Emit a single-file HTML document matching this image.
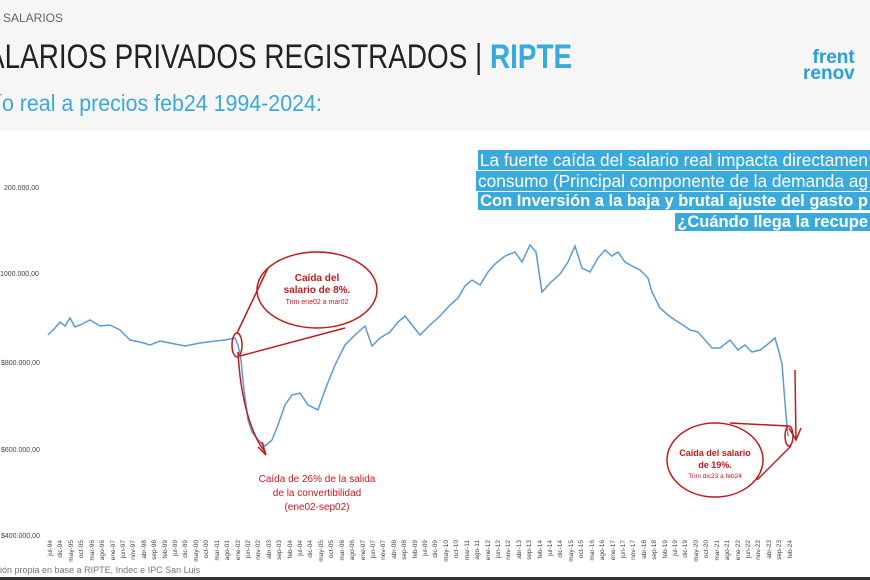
<!DOCTYPE html>
<html><head><meta charset="utf-8"><style>
html,body{margin:0;padding:0;width:870px;height:580px;overflow:hidden;background:#fff;font-family:"Liberation Sans",sans-serif}
.top{position:absolute;left:0;top:0;width:870px;height:131px;background:#f6f6f6}
.t{position:absolute;white-space:nowrap;transform-origin:0 0}
.box{position:absolute;right:0;text-align:right;font-size:17.3px;line-height:20px;color:#fff;white-space:nowrap}
.box span{background:#3aa9dc;padding:0 2px}
</style></head><body>
<div class="top"></div>
<div class="t" style="left:3px;top:11px;font-size:12px;color:#666">SALARIOS</div>
<div class="t" style="left:-14px;top:38px;font-size:34px;color:#222;transform:scaleX(0.82)">ALARIOS PRIVADOS REGISTRADOS | <span style="color:#3aa9dc;font-weight:bold">RIPTE</span></div>
<div class="t" style="left:-4px;top:90px;font-size:23px;color:#3aa9dc;transform:scaleX(0.93)">ío real a precios feb24 1994-2024:</div>
<div class="t" style="left:803px;top:50px;font-size:19px;line-height:16px;color:#2a9fd6;font-weight:bold;text-align:right">frent<br>renov</div>
<div class="box" style="top:150px"><span>La fuerte caída del salario real impacta directamen</span></div>
<div class="box" style="top:171px"><span>consumo (Principal componente de la demanda ag</span></div>
<div class="box" style="top:191px;font-weight:bold;font-size:16.5px"><span>Con Inversión a la baja y brutal ajuste del gasto p</span></div>
<div class="box" style="top:212px;font-weight:bold;font-size:16.5px"><span>¿Cuándo llega la recupe</span></div>
<svg width="870" height="580" style="position:absolute;left:0;top:0" font-family="Liberation Sans, sans-serif">
<g font-size="7" fill="#444">
<text x="4" y="190">200.000,00</text>
<text x="0" y="276">1000.000,00</text>
<text x="1" y="365">$800.000,00</text>
<text x="1" y="452">$600.000,00</text>
<text x="1" y="538">$400.000,00</text>
</g>
<polyline fill="none" stroke="#5b9bd5" stroke-width="1.5" points="48,335 55,328 60,322 65,326 70,318 75,327 80,325 90,320 100,326 110,325 120,330 130,340 140,342 150,345 160,341 170,343 185,346 200,343 215,341 225,340 235,338 238,345 241,360 244,390 248,420 252,432 258,440 265,446 272,440 278,425 285,405 292,395 300,393 308,405 318,410 325,390 335,365 345,345 355,335 365,326 372,346 380,338 390,332 398,322 405,316 412,325 420,335 430,325 440,316 450,305 458,298 465,286 472,280 480,285 488,272 495,264 505,256 515,252 522,262 530,245 536,252 542,292 550,283 560,274 568,262 575,246 582,268 590,272 598,258 605,250 612,256 618,252 625,262 632,266 640,270 648,278 652,292 660,308 668,315 675,320 683,325 690,330 698,332 705,340 712,348 720,348 730,340 738,350 745,345 752,352 760,350 768,344 775,338 779,352 782,364 784,390 786,415 788,436"/>
<g fill="none" stroke="#c3191d" stroke-width="1.5">
<ellipse cx="317" cy="290" rx="60" ry="38"/>
<ellipse cx="237" cy="345" rx="5" ry="12"/>
<line x1="237" y1="333" x2="268" y2="268"/>
<line x1="240" y1="356" x2="345" y2="328"/>
<path d="M238,352 C240,390 248,430 265,452"/>
<path d="M258,447 L266,455 L262,442"/>
<ellipse cx="715" cy="460" rx="48" ry="37"/>
<ellipse cx="789" cy="436" rx="4" ry="10"/>
<line x1="788" y1="426" x2="730" y2="423"/>
<line x1="791" y1="446" x2="757" y2="480"/>
<path d="M795,370 L796,440"/>
<path d="M789,428 L796,440 L801,428"/>
</g>
<g fill="#c3191d" text-anchor="middle">
<text x="317" y="281" font-size="10" font-weight="bold">Caída del</text>
<text x="317" y="293" font-size="10" font-weight="bold">salario de 8%.</text>
<text x="317" y="304" font-size="7">Trim ene02 a mar02</text>
<text x="715" y="456" font-size="9" font-weight="bold">Caída del salario</text>
<text x="715" y="468" font-size="9" font-weight="bold">de 19%.</text>
<text x="715" y="478" font-size="6.5">Trim dic23 a feb24</text>
<text x="317" y="482" font-size="10">Caída de 26% de la salida</text>
<text x="317" y="496" font-size="10">de la convertibilidad</text>
<text x="317" y="510" font-size="10">(ene02-sep02)</text>
</g>
<g font-size="6.5" fill="#444" text-anchor="end">
<text transform="translate(52,540) rotate(-90)">jul-94</text><text transform="translate(62,540) rotate(-90)">dic-94</text><text transform="translate(73,540) rotate(-90)">may-95</text><text transform="translate(83,540) rotate(-90)">oct-95</text><text transform="translate(94,540) rotate(-90)">mar-96</text><text transform="translate(104,540) rotate(-90)">ago-96</text><text transform="translate(115,540) rotate(-90)">ene-97</text><text transform="translate(125,540) rotate(-90)">jun-97</text><text transform="translate(135,540) rotate(-90)">nov-97</text><text transform="translate(146,540) rotate(-90)">abr-98</text><text transform="translate(156,540) rotate(-90)">sep-98</text><text transform="translate(167,540) rotate(-90)">feb-99</text><text transform="translate(177,540) rotate(-90)">jul-99</text><text transform="translate(187,540) rotate(-90)">dic-99</text><text transform="translate(198,540) rotate(-90)">may-00</text><text transform="translate(208,540) rotate(-90)">oct-00</text><text transform="translate(219,540) rotate(-90)">mar-01</text><text transform="translate(229,540) rotate(-90)">ago-01</text><text transform="translate(240,540) rotate(-90)">ene-02</text><text transform="translate(250,540) rotate(-90)">jun-02</text><text transform="translate(260,540) rotate(-90)">nov-02</text><text transform="translate(271,540) rotate(-90)">abr-03</text><text transform="translate(281,540) rotate(-90)">sep-03</text><text transform="translate(292,540) rotate(-90)">feb-04</text><text transform="translate(302,540) rotate(-90)">jul-04</text><text transform="translate(312,540) rotate(-90)">dic-04</text><text transform="translate(323,540) rotate(-90)">may-05</text><text transform="translate(333,540) rotate(-90)">oct-05</text><text transform="translate(344,540) rotate(-90)">mar-06</text><text transform="translate(354,540) rotate(-90)">ago-06</text><text transform="translate(365,540) rotate(-90)">ene-07</text><text transform="translate(375,540) rotate(-90)">jun-07</text><text transform="translate(385,540) rotate(-90)">nov-07</text><text transform="translate(396,540) rotate(-90)">abr-08</text><text transform="translate(406,540) rotate(-90)">sep-08</text><text transform="translate(417,540) rotate(-90)">feb-09</text><text transform="translate(427,540) rotate(-90)">jul-09</text><text transform="translate(437,540) rotate(-90)">dic-09</text><text transform="translate(448,540) rotate(-90)">may-10</text><text transform="translate(458,540) rotate(-90)">oct-10</text><text transform="translate(469,540) rotate(-90)">mar-11</text><text transform="translate(479,540) rotate(-90)">ago-11</text><text transform="translate(490,540) rotate(-90)">ene-12</text><text transform="translate(500,540) rotate(-90)">jun-12</text><text transform="translate(510,540) rotate(-90)">nov-12</text><text transform="translate(521,540) rotate(-90)">abr-13</text><text transform="translate(531,540) rotate(-90)">sep-13</text><text transform="translate(542,540) rotate(-90)">feb-14</text><text transform="translate(552,540) rotate(-90)">jul-14</text><text transform="translate(562,540) rotate(-90)">dic-14</text><text transform="translate(573,540) rotate(-90)">may-15</text><text transform="translate(583,540) rotate(-90)">oct-15</text><text transform="translate(594,540) rotate(-90)">mar-16</text><text transform="translate(604,540) rotate(-90)">ago-16</text><text transform="translate(615,540) rotate(-90)">ene-17</text><text transform="translate(625,540) rotate(-90)">jun-17</text><text transform="translate(635,540) rotate(-90)">nov-17</text><text transform="translate(646,540) rotate(-90)">abr-18</text><text transform="translate(656,540) rotate(-90)">sep-18</text><text transform="translate(667,540) rotate(-90)">feb-19</text><text transform="translate(677,540) rotate(-90)">jul-19</text><text transform="translate(687,540) rotate(-90)">dic-19</text><text transform="translate(698,540) rotate(-90)">may-20</text><text transform="translate(708,540) rotate(-90)">oct-20</text><text transform="translate(719,540) rotate(-90)">mar-21</text><text transform="translate(729,540) rotate(-90)">ago-21</text><text transform="translate(740,540) rotate(-90)">ene-22</text><text transform="translate(750,540) rotate(-90)">jun-22</text><text transform="translate(760,540) rotate(-90)">nov-22</text><text transform="translate(771,540) rotate(-90)">abr-23</text><text transform="translate(781,540) rotate(-90)">sep-23</text><text transform="translate(792,540) rotate(-90)">feb-24</text>
</g>
<text x="0" y="573" font-size="9" fill="#777">ión propia en base a RIPTE, Indec e IPC San Luis</text>
<rect x="0" y="577" width="870" height="3" fill="#333"/>
</svg>
</body></html>
